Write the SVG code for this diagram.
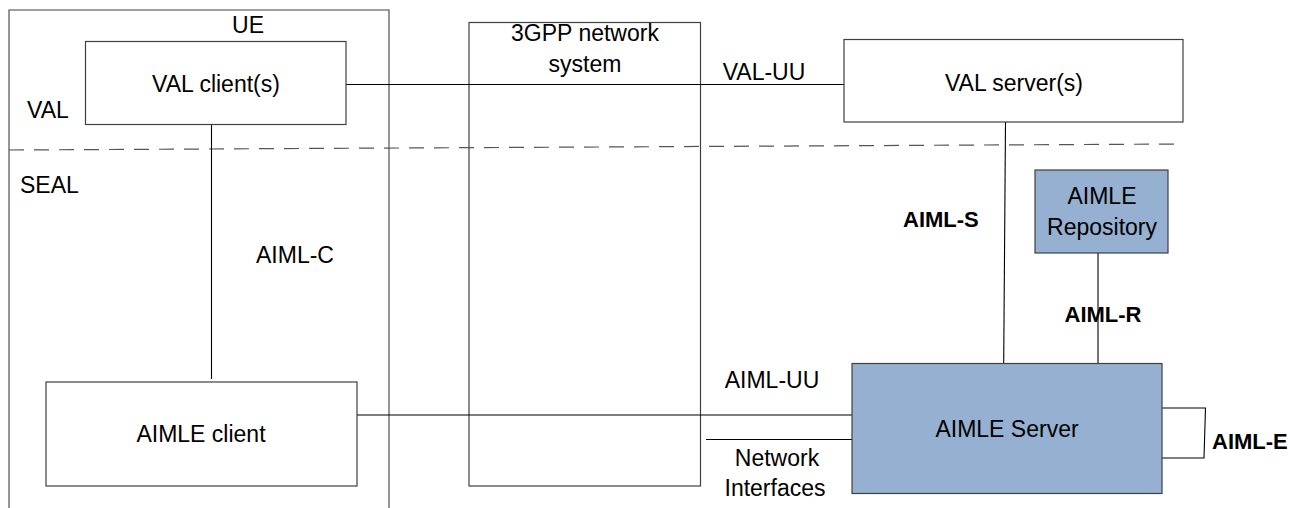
<svg xmlns="http://www.w3.org/2000/svg" width="1290" height="508" viewBox="0 0 1290 508">
<style>
.box{fill:#fff;stroke:#404040;stroke-width:1.2}
.blue{fill:#95B0D0;stroke:#404040;stroke-width:1.2}
.ln{fill:none;stroke:#000;stroke-width:1.1}
.dash{fill:none;stroke:#555;stroke-width:1.2;stroke-dasharray:15 10}
text{font-family:"Liberation Sans",Arial,sans-serif;font-size:23px;fill:#000}
.c{text-anchor:middle}
.b{font-weight:bold;font-size:22px}
</style>
<rect width="1290" height="508" fill="#fff"/>
<g id="ue">
<path class="ln" d="M9 520 V10 H389 V520" style="stroke:#404040"/>
<text x="248" y="33" class="c">UE</text>
</g>
<g id="labels">
<text x="27" y="118">VAL</text>
<text x="20" y="193">SEAL</text>
</g>
<g id="gpp">
<rect class="box" x="469" y="22.5" width="231.5" height="463.5"/>
<text x="585" y="41" class="c">3GPP network</text>
<text x="585" y="72" class="c">system</text>
</g>
<g id="connectors">
<path class="dash" d="M9 150 L1183 144"/>
<path class="ln" d="M346 84.5 H844"/>
<path class="ln" d="M211.5 124.5 V379"/>
<path class="ln" d="M357 415 H852"/>
<path class="ln" d="M706 439.5 H852"/>
<path class="ln" d="M1005.5 122 L1003.7 363"/>
<path class="ln" d="M1098 253 V363"/>
<path class="ln" d="M1162 408 H1205.5 L1204 458 H1162"/>
<text x="764" y="80" class="c">VAL-UU</text>
<text x="295" y="263" class="c">AIML-C</text>
<text x="903" y="227" class="b">AIML-S</text>
<text x="1103" y="322" class="c b">AIML-R</text>
<text x="1212" y="449" class="b">AIML-E</text>
<text x="772" y="388" class="c">AIML-UU</text>
<text x="777" y="466" class="c">Network</text>
<text x="775" y="496" class="c">Interfaces</text>
</g>
<g id="val-client">
<rect class="box" x="85.5" y="41.5" width="260.5" height="83"/>
<text x="216" y="92" class="c">VAL client(s)</text>
</g>
<g id="val-server">
<rect class="box" x="844" y="39.5" width="339" height="82.5"/>
<text x="1014" y="91" class="c">VAL server(s)</text>
</g>
<g id="aimle-client">
<rect class="box" x="46" y="382" width="311" height="104"/>
<text x="201" y="442" class="c">AIMLE client</text>
</g>
<g id="aimle-repository">
<rect class="blue" x="1035" y="170" width="133" height="83"/>
<text x="1102" y="204" class="c">AIMLE</text>
<text x="1102" y="235" class="c">Repository</text>
</g>
<g id="aimle-server">
<rect class="blue" x="852" y="363.5" width="310" height="130"/>
<text x="1007" y="437" class="c">AIMLE Server</text>
</g>
</svg>
